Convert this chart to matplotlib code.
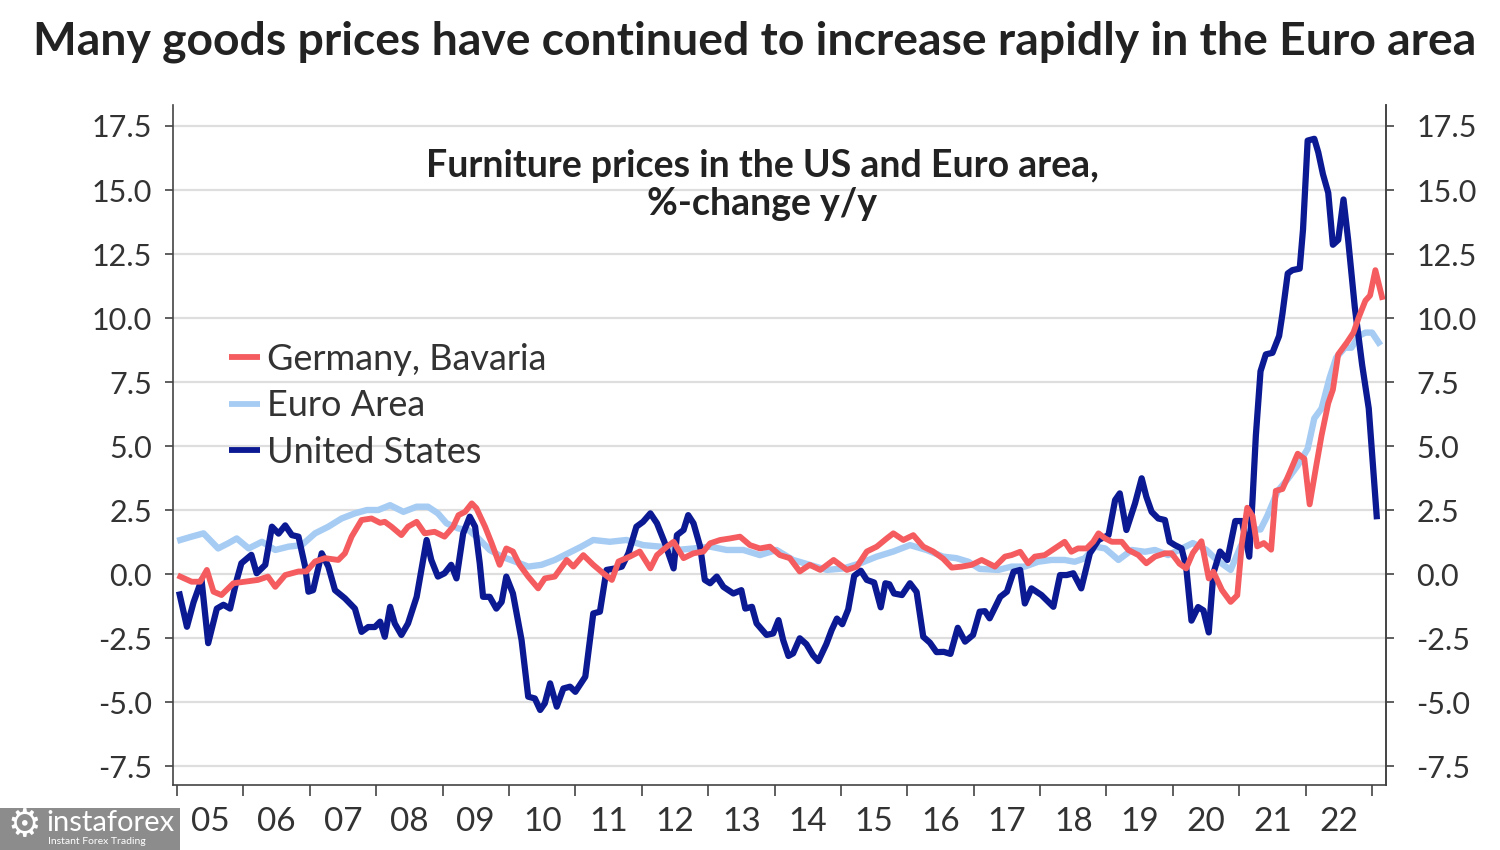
import matplotlib
matplotlib.use('Agg')
import matplotlib.pyplot as plt
from matplotlib.patches import Rectangle

plt.rcParams['font.family'] = ['Lato', 'DejaVu Sans']
plt.rcParams['axes.unicode_minus'] = False

# ---------------- data ----------------
us_dates = [2005.04, 2005.15, 2005.25, 2005.37, 2005.47, 2005.6, 2005.7, 2005.8, 2005.9, 2005.97,
            2006.12, 2006.2, 2006.33, 2006.43, 2006.53, 2006.63, 2006.73, 2006.83, 2006.93, 2006.98,
            2007.05, 2007.18, 2007.28, 2007.38, 2007.53, 2007.68, 2007.78, 2007.88, 2007.98,
            2008.06, 2008.13, 2008.21, 2008.28, 2008.38, 2008.48, 2008.61, 2008.76, 2008.83, 2008.93,
            2009.03, 2009.13, 2009.21, 2009.31, 2009.41, 2009.49, 2009.56, 2009.61, 2009.71, 2009.81,
            2009.89, 2009.96, 2010.06, 2010.19, 2010.29, 2010.39, 2010.47, 2010.54, 2010.62, 2010.72,
            2010.82, 2010.92, 2011.0, 2011.15, 2011.27, 2011.37, 2011.47, 2011.6, 2011.7, 2011.8,
            2011.92, 2012.02, 2012.13, 2012.23, 2012.35, 2012.48, 2012.53, 2012.63, 2012.7, 2012.78,
            2012.88, 2012.95, 2013.03, 2013.13, 2013.23, 2013.38, 2013.5, 2013.56, 2013.66, 2013.73,
            2013.88, 2013.98, 2014.06, 2014.13, 2014.21, 2014.28, 2014.38, 2014.48, 2014.58, 2014.66,
            2014.78, 2014.86, 2014.94, 2015.02, 2015.11, 2015.2, 2015.3, 2015.39, 2015.5, 2015.6,
            2015.67, 2015.73, 2015.8, 2015.92, 2016.04, 2016.14, 2016.24, 2016.34, 2016.44, 2016.55,
            2016.65, 2016.76, 2016.87, 2016.99, 2017.09, 2017.17, 2017.24, 2017.4, 2017.5, 2017.6,
            2017.7, 2017.77, 2017.87, 2018.02, 2018.2, 2018.3, 2018.4, 2018.5, 2018.62, 2018.75,
            2018.88, 2019.03, 2019.13, 2019.2, 2019.3, 2019.43, 2019.53, 2019.6, 2019.68, 2019.78,
            2019.88, 2019.95, 2020.03, 2020.13, 2020.2, 2020.28, 2020.38, 2020.46, 2020.54, 2020.61,
            2020.71, 2020.82, 2020.94, 2021.04, 2021.15, 2021.2, 2021.25, 2021.32, 2021.4, 2021.5,
            2021.6, 2021.65, 2021.73, 2021.8, 2021.91, 2021.96, 2022.03, 2022.13, 2022.19, 2022.26,
            2022.34, 2022.41, 2022.49, 2022.57, 2022.64, 2022.74, 2022.85, 2022.95, 2023.07]
us_vals = [-0.8, -2.06, -1.1, -0.23, -2.7, -1.35, -1.2, -1.35, -0.23, 0.42,
           0.75, 0.03, 0.36, 1.85, 1.58, 1.9, 1.52, 1.46, 0.29, -0.69,
           -0.63, 0.81, 0.29, -0.63, -0.95, -1.35, -2.26, -2.07, -2.07,
           -1.86, -2.45, -1.28, -1.93, -2.38, -1.93, -0.89, 1.33, 0.55, -0.1,
           0.03, 0.36, -0.17, 1.58, 2.24, 1.85, 0.42, -0.89, -0.89, -1.35,
           -1.09, -0.1, -0.76, -2.58, -4.79, -4.86, -5.31, -5.05, -4.27, -5.18,
           -4.47, -4.4, -4.6, -4.01, -1.54, -1.47, 0.16, 0.22, 0.29, 0.81,
           1.85, 2.04, 2.37, 1.98, 1.2, 0.22, 1.52, 1.72, 2.3, 1.98,
           1.07, -0.23, -0.36, -0.1, -0.5, -0.76, -0.63, -1.35, -1.28, -1.93,
           -2.38, -2.32, -1.8, -2.58, -3.2, -3.1, -2.51, -2.74, -3.17, -3.4,
           -2.74, -2.19, -1.74, -1.96, -1.38, -0.07, 0.13, -0.23, -0.33, -1.3,
           -0.36, -0.4, -0.76, -0.82, -0.36, -0.7, -2.45, -2.68, -3.05, -3.04,
           -3.12, -2.1, -2.64, -2.38, -1.47, -1.45, -1.73, -0.89, -0.69, 0.09,
           0.16, -1.15, -0.56, -0.82, -1.28, -0.04, -0.04, 0.03, -0.56, 0.81,
           1.33, 1.52, 2.89, 3.15, 1.72, 2.76, 3.74, 3.02, 2.43, 2.17,
           2.11, 1.26, 1.13, 1.0, 0.29, -1.82, -1.29, -1.42, -2.28, 0.03,
           0.88, 0.55, 2.07, 2.07, 0.68, 2.92, 5.42, 7.92, 8.58, 8.64,
           9.3, 10.16, 11.74, 11.87, 11.93, 13.45, 16.93, 17.0, 16.47, 15.62,
           14.89, 12.86, 13.05, 14.63, 13.05, 10.42, 8.18, 6.47, 2.26]

de_dates = [2005.05, 2005.22, 2005.35, 2005.45, 2005.55, 2005.67, 2005.85, 2006.02, 2006.22, 2006.37,
            2006.48, 2006.63, 2006.83, 2006.95, 2007.08, 2007.23, 2007.43, 2007.53, 2007.63, 2007.78,
            2007.93, 2008.06, 2008.13, 2008.23, 2008.38, 2008.48, 2008.61, 2008.73, 2008.88, 2009.03,
            2009.16, 2009.24, 2009.34, 2009.44, 2009.51, 2009.64, 2009.74, 2009.86, 2009.96, 2010.06,
            2010.16, 2010.29, 2010.44, 2010.54, 2010.69, 2010.87, 2010.97, 2011.12, 2011.27, 2011.42,
            2011.55, 2011.65, 2011.82, 2011.97, 2012.13, 2012.23, 2012.38, 2012.48, 2012.63, 2012.78,
            2012.93, 2013.03, 2013.18, 2013.33, 2013.48, 2013.63, 2013.78, 2013.93, 2014.08, 2014.23,
            2014.38, 2014.53, 2014.69, 2014.89, 2015.09, 2015.24, 2015.39, 2015.54, 2015.69, 2015.79,
            2015.94, 2016.09, 2016.24, 2016.39, 2016.54, 2016.67, 2016.82, 2016.97, 2017.12, 2017.32,
            2017.47, 2017.57, 2017.7, 2017.82, 2017.92, 2018.07, 2018.22, 2018.37, 2018.47, 2018.57,
            2018.7, 2018.8, 2018.88, 2018.98, 2019.08, 2019.23, 2019.33, 2019.48, 2019.6, 2019.73,
            2019.88, 2019.98, 2020.1, 2020.2, 2020.3, 2020.43, 2020.54, 2020.61, 2020.74, 2020.87,
            2020.97, 2021.04, 2021.12, 2021.2, 2021.27, 2021.37, 2021.48, 2021.55, 2021.65, 2021.75,
            2021.88, 2021.98, 2022.06, 2022.16, 2022.24, 2022.34, 2022.41, 2022.49, 2022.62, 2022.72,
            2022.8, 2022.9, 2022.97, 2023.05, 2023.15]
de_vals = [-0.1, -0.3, -0.3, 0.16, -0.69, -0.82, -0.36, -0.3, -0.23, -0.1,
           -0.5, -0.04, 0.1, 0.1, 0.49, 0.62, 0.55, 0.81, 1.46, 2.11,
           2.17, 2.0, 2.04, 1.85, 1.52, 1.85, 2.04, 1.59, 1.65, 1.46,
           1.85, 2.3, 2.43, 2.76, 2.57, 1.85, 1.2, 0.36, 1.0, 0.88,
           0.36, -0.1, -0.56, -0.17, -0.1, 0.55, 0.29, 0.74, 0.36, 0.03,
           -0.23, 0.49, 0.68, 0.88, 0.22, 0.74, 1.07, 1.26, 0.62, 0.81,
           0.88, 1.2, 1.33, 1.39, 1.46, 1.13, 1.0, 1.07, 0.74, 0.62,
           0.1, 0.36, 0.16, 0.55, 0.16, 0.29, 0.88, 1.07, 1.39, 1.59,
           1.33, 1.52, 1.07, 0.88, 0.6, 0.25, 0.29, 0.36, 0.55, 0.29,
           0.68, 0.74, 0.87, 0.42, 0.68, 0.74, 1.0, 1.26, 0.87, 1.0,
           1.0, 1.26, 1.59, 1.39, 1.26, 1.26, 0.94, 0.74, 0.42, 0.68,
           0.81, 0.81, 0.4, 0.22, 0.82, 1.28, -0.17, 0.09, -0.63, -1.09,
           -0.83, 1.21, 2.59, 2.26, 1.08, 1.21, 0.95, 3.25, 3.32, 3.91,
           4.7, 4.5, 2.72, 4.24, 5.42, 6.67, 7.2, 8.58, 9.04, 9.43,
           10.03, 10.68, 10.88, 11.87, 10.82]

ea_dates = [2005.05, 2005.22, 2005.4, 2005.62, 2005.77, 2005.9, 2006.08, 2006.28, 2006.48, 2006.68,
            2006.88, 2007.08, 2007.28, 2007.48, 2007.68, 2007.86, 2008.03, 2008.21, 2008.41, 2008.61,
            2008.78, 2008.93, 2009.06, 2009.24, 2009.39, 2009.54, 2009.71, 2009.89, 2010.09, 2010.29,
            2010.49, 2010.69, 2010.89, 2011.09, 2011.27, 2011.52, 2011.77, 2012.02, 2012.28, 2012.53,
            2012.78, 2013.03, 2013.28, 2013.53, 2013.78, 2014.03, 2014.28, 2014.53, 2014.79, 2015.04,
            2015.29, 2015.54, 2015.79, 2016.04, 2016.29, 2016.54, 2016.74, 2016.92, 2017.09, 2017.37,
            2017.57, 2017.77, 2017.97, 2018.17, 2018.37, 2018.52, 2018.67, 2018.83, 2018.98, 2019.18,
            2019.38, 2019.58, 2019.73, 2019.93, 2020.1, 2020.3, 2020.5, 2020.66, 2020.87, 2021.02,
            2021.17, 2021.32, 2021.42, 2021.58, 2021.73, 2021.88, 2022.03, 2022.13, 2022.24, 2022.36,
            2022.46, 2022.59, 2022.69, 2022.8, 2022.9, 2023.0, 2023.1]
ea_vals = [1.33, 1.46, 1.59, 1.0, 1.2, 1.39, 1.0, 1.26, 0.94, 1.07,
           1.13, 1.59, 1.85, 2.17, 2.37, 2.5, 2.5, 2.69, 2.43, 2.63,
           2.63, 2.37, 1.98, 1.78, 1.72, 1.39, 0.94, 0.68, 0.49, 0.29,
           0.36, 0.55, 0.81, 1.07, 1.33, 1.26, 1.33, 1.13, 1.07, 0.94,
           1.0, 1.07, 0.94, 0.94, 0.74, 0.94, 0.55, 0.36, 0.16, 0.22,
           0.42, 0.68, 0.88, 1.13, 0.94, 0.68, 0.62, 0.48, 0.2, 0.16,
           0.29, 0.29, 0.48, 0.55, 0.55, 0.48, 0.61, 1.07, 1.0, 0.55,
           0.94, 0.87, 0.94, 0.74, 0.95, 1.21, 0.95, 0.55, 0.16, 1.08,
           1.74, 1.74, 2.26, 3.25, 3.71, 4.24, 4.89, 6.08, 6.47, 7.66,
           8.45, 8.84, 8.84, 9.3, 9.43, 9.43, 9.04]

y_ticks = [-7.5, -5.0, -2.5, 0.0, 2.5, 5.0, 7.5, 10.0, 12.5, 15.0, 17.5]
year_bounds = list(range(2005, 2024))
year_labels = ['05', '06', '07', '08', '09', '10', '11', '12', '13', '14',
               '15', '16', '17', '18', '19', '20', '21', '22']

title = 'Many goods prices have continued to increase rapidly in the Euro area'
subtitle = 'Furniture prices in the US and Euro area,\n%-change y/y'
series_names = ['Germany, Bavaria', 'Euro Area', 'United States']

# ---------------- figure ----------------
W, H = 1500, 850
fig = plt.figure(figsize=(W / 100, H / 100), dpi=100)
fig.patch.set_facecolor('white')
ax = fig.add_axes([173 / W, 1 - 785 / H, (1386 - 173) / W, (785 - 105) / H])

c_de, c_ea, c_us = '#F45C5F', '#A6CCF4', '#0B1A92'
l_ea, = ax.plot(ea_dates, ea_vals, color=c_ea, lw=4.6, zorder=3, solid_joinstyle='round')
l_us, = ax.plot(us_dates, us_vals, color=c_us, lw=4.5, zorder=4, solid_joinstyle='round')
l_de, = ax.plot(de_dates, de_vals, color=c_de, lw=4.2, zorder=5, solid_joinstyle='round')

ax.set_xlim(2004.94, 2023.21)
ax.set_ylim(-8.24, 18.32)

ytl = [f'{v:.1f}' for v in y_ticks]
ax.set_yticks(y_ticks)
ax.set_yticklabels(ytl)
ax.tick_params(axis='y', which='major', left=True, right=False, labelleft=True, labelright=False,
               length=6, width=1.2, color='#444444', pad=9, labelsize=22, labelcolor='#333333')

ax2 = ax.twinx()
ax2.set_ylim(ax.get_ylim())
ax2.set_yticks(y_ticks)
ax2.set_yticklabels(ytl)
ax2.tick_params(axis='y', which='major', length=6, width=1.2, color='#444444', pad=16,
                labelsize=22, labelcolor='#333333')
for s in ['left', 'top', 'bottom']:
    ax2.spines[s].set_visible(False)
ax2.spines['right'].set_color('#444444')
ax2.spines['right'].set_linewidth(1.2)

ax.set_xticks(year_bounds)
ax.set_xticklabels([''] * len(year_bounds))
ax.set_xticks([y + 0.5 for y in year_bounds[:-1]], minor=True)
ax.set_xticklabels(year_labels, minor=True)
ax.tick_params(axis='x', which='major', length=8, width=1.2, color='#444444')
ax.tick_params(axis='x', which='minor', length=0, pad=16, labelsize=24, labelcolor='#333333')

for s in ['left', 'right', 'bottom']:
    ax.spines[s].set_color('#444444')
    ax.spines[s].set_linewidth(1.2)
ax.spines['top'].set_visible(False)

ax.grid(axis='y', color='#dedede', lw=1.6)
ax.set_axisbelow(True)

leg = ax.legend([l_de, l_ea, l_us], series_names, loc='upper left',
                bbox_to_anchor=(229 / W, 1 - 343 / H), bbox_transform=fig.transFigure,
                frameon=False, handlelength=0.85, handletextpad=0.2, labelspacing=0.37,
                fontsize=26, borderaxespad=0, borderpad=0)
for t in leg.get_texts():
    t.set_color('#333333')
for h in leg.legend_handles:
    h.set_linewidth(4.2)
    h.set_solid_capstyle('butt')

fig.text(755 / W, 1 - 42 / H, title, ha='center', va='center', fontsize=33.3,
         fontweight='bold', color='#222222')
fig.text(762 / W, 1 - 185 / H, subtitle, ha='center', va='center', fontsize=27,
         fontweight='bold', color='#222222', linespacing=1.14)

# watermark box
fig.patches.append(Rectangle((0, 0), 180 / W, 42 / H, transform=fig.transFigure,
                             facecolor='#8c8c8c', edgecolor='none', zorder=10))
fig.text(24 / W, 1 - 826 / H, '\u2699', ha='center', va='center', fontsize=27, color='white',
         family='DejaVu Sans', zorder=11)
fig.text(46 / W, 1 - 823 / H, 'instaforex', ha='left', va='center', fontsize=21, color='white', zorder=11)
fig.text(48 / W, 1 - 842 / H, 'Instant Forex Trading', ha='left', va='center', fontsize=7.5,
         color='white', zorder=11)

fig.savefig('out.png', dpi=100, facecolor='white')
